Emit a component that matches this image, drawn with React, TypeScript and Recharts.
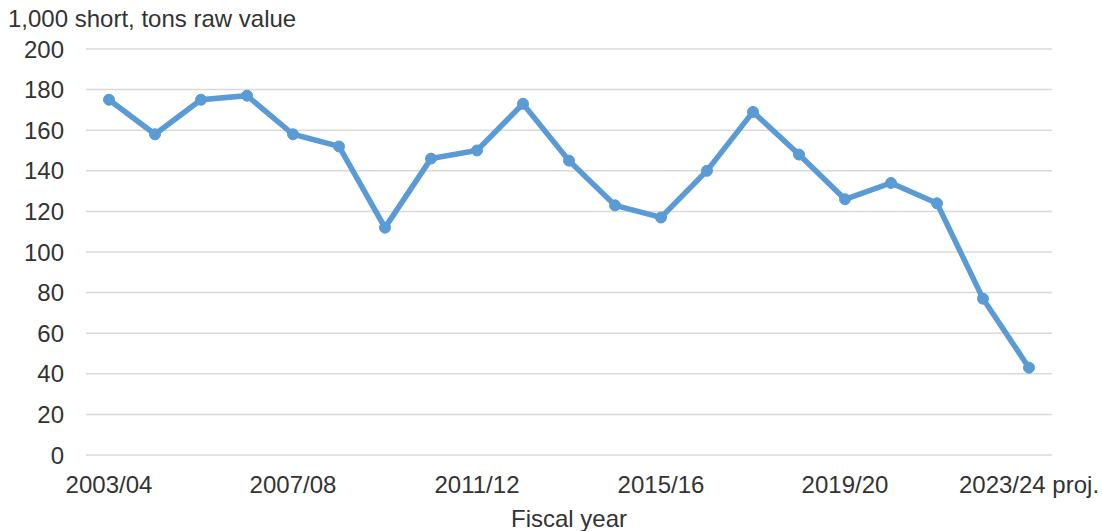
import { LineChart, Line, XAxis, YAxis, CartesianGrid } from 'recharts';

const years = [
  '2003/04', '2004/05', '2005/06', '2006/07', '2007/08', '2008/09', '2009/10',
  '2010/11', '2011/12', '2012/13', '2013/14', '2014/15', '2015/16', '2016/17',
  '2017/18', '2018/19', '2019/20', '2020/21', '2021/22', '2022/23', '2023/24 proj.',
];
const production = [
  175, 158, 175, 177, 158, 152, 112, 146, 150, 173, 145,
  123, 117, 140, 169, 148, 126, 134, 124, 77, 43,
];
const yTicks = [0, 20, 40, 60, 80, 100, 120, 140, 160, 180, 200];

const data = years.map((year, i) => ({ year, value: production[i] }));

const font = '"Liberation Sans", Arial, sans-serif';
const textColor = '#333333';

export default function App() {
  return (
    <div style={{ position: 'absolute', left: 0, top: 0, width: 1102, height: 531, background: '#fff', fontFamily: font }}>
      <div style={{ position: 'absolute', left: 8, top: 7, fontSize: 24, lineHeight: '24px', color: textColor, whiteSpace: 'nowrap' }}>
        1,000 short, tons raw value
      </div>
      <LineChart width={1102} height={531} data={data} margin={{ top: 49, right: 50, bottom: 36, left: 0 }}>
        <CartesianGrid vertical={false} stroke="#d9d9d9" strokeWidth={1.5} />
        <XAxis
          dataKey="year"
          interval={3}
          axisLine={false}
          tickLine={false}
          tickSize={0}
          tickMargin={21}
          height={40}
          padding={{ left: 23, right: 23 }}
          tick={{ fill: textColor, fontSize: 24, fontFamily: font }}
        />
        <YAxis
          domain={[0, 200]}
          ticks={yTicks}
          width={86}
          axisLine={false}
          tickLine={false}
          tickSize={0}
          tickMargin={22}
          tick={{ fill: textColor, fontSize: 24, fontFamily: font }}
        />
        <Line
          type="linear"
          dataKey="value"
          stroke="#5B9BD5"
          strokeWidth={5.5}
          dot={{ r: 5.5, fill: '#5B9BD5', stroke: '#5B9BD5', strokeWidth: 1 }}
          isAnimationActive={false}
        />
      </LineChart>
      <div style={{ position: 'absolute', left: 86, width: 966, top: 507, fontSize: 24, lineHeight: '24px', color: textColor, textAlign: 'center' }}>
        Fiscal year
      </div>
    </div>
  );
}
